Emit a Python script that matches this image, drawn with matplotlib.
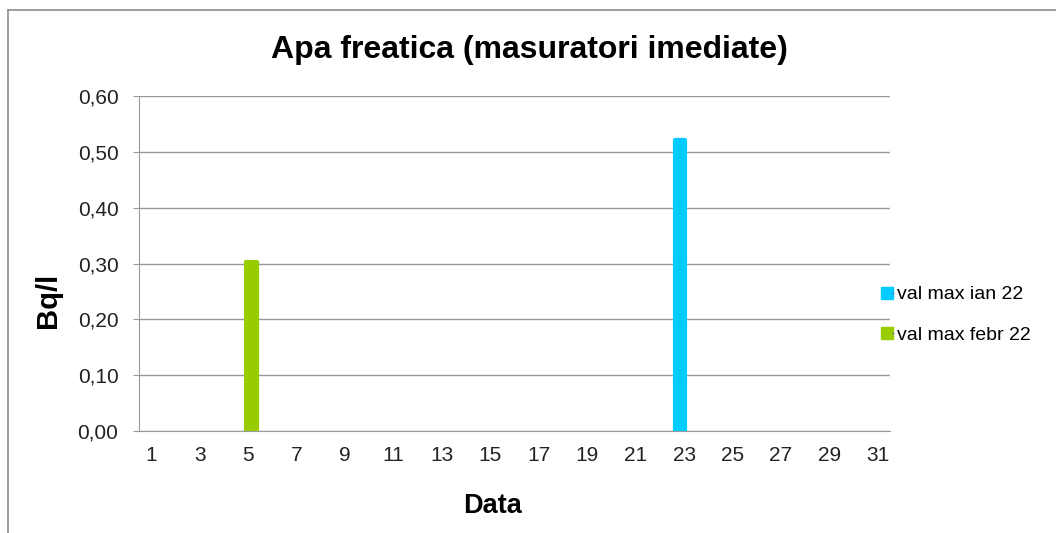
import matplotlib.pyplot as plt
from matplotlib.lines import Line2D
from matplotlib.legend_handler import HandlerTuple
from matplotlib.ticker import FuncFormatter

plt.rcParams['font.family'] = ['Liberation Sans', 'DejaVu Sans']

days = list(range(1, 32))
ian_day = [23]
ian_vals = [0.522]
febr_day = [5]
febr_vals = [0.302]
series_names = ['val max ian 22', 'val max febr 22']
colors = ['#00ccff', '#99cc00']

W, H = 1056, 533
fig = plt.figure(figsize=(W / 100, H / 100), dpi=100)
ax = fig.add_axes([139 / W, 1 - 431 / H, (890 - 139) / W, (431 - 96) / H])

# outer chart border (only top/left visible in the reference)
fig.add_artist(plt.Line2D([8 / W, 1], [1 - 10 / H, 1 - 10 / H], color='#8c8c8c', lw=1.2))
fig.add_artist(plt.Line2D([8 / W, 8 / W], [0, 1 - 10 / H], color='#8c8c8c', lw=1.2))

bw = 0.45
ax.bar([d - 0.17 for d in ian_day], ian_vals, width=bw, color=colors[0],
       edgecolor=colors[0], linewidth=3, joinstyle='round', zorder=3)
ax.bar([d + 0.14 for d in febr_day], febr_vals, width=bw, color=colors[1],
       edgecolor=colors[1], linewidth=3, joinstyle='round', zorder=3)

ax.set_xlim(0.5, 31.5)
ax.set_ylim(0, 0.6)
ax.set_yticks([i / 10 for i in range(7)])
ax.yaxis.set_major_formatter(FuncFormatter(lambda v, p: f'{v:.2f}'.replace('.', ',')))
ax.set_xticks(days[::2])
ax.grid(axis='y', color='#9a9a9a', lw=1)
ax.set_axisbelow(True)
for s in ['top', 'right']:
    ax.spines[s].set_visible(False)
for s in ['left', 'bottom']:
    ax.spines[s].set_color('#9a9a9a')
ax.tick_params(axis='y', length=4.3, color='#9a9a9a', labelsize=15, pad=10.5, labelcolor='#222222')
ax.tick_params(axis='x', length=0, labelsize=15, pad=11, labelcolor='#222222')

ax.set_ylabel('Bq/l', fontsize=21, fontweight='bold')
ax.yaxis.set_label_coords(-0.1025, 0.39)
ax.set_xlabel('Data', fontsize=19.5, fontweight='bold')
ax.xaxis.set_label_coords(0.4707, -0.185)
fig.text(529 / W, 1 - 50 / H, 'Apa freatica (masuratori imediate)', ha='center', va='center',
         fontsize=23, fontweight='bold')

handles = []
for c in colors:
    sq = Line2D([], [], ls='none', marker='s', markersize=8.5, markerfacecolor=c,
                markeredgecolor=c, markeredgewidth=1, solid_joinstyle='round')
    dot = Line2D([], [], ls='none', marker='o', markersize=1.5, markerfacecolor='#6a7fa8',
                 markeredgewidth=0)
    handles.append((sq, dot))
leg = fig.legend(handles, series_names, handler_map={tuple: HandlerTuple(ndivide=None)},
                 loc='center left', bbox_to_anchor=(884 / W, 1 - 315 / H), frameon=False,
                 fontsize=14, handlelength=0.6, handletextpad=0.05, labelspacing=1.2,
                 borderaxespad=0, borderpad=0)

fig.savefig('out.png', dpi=100)
